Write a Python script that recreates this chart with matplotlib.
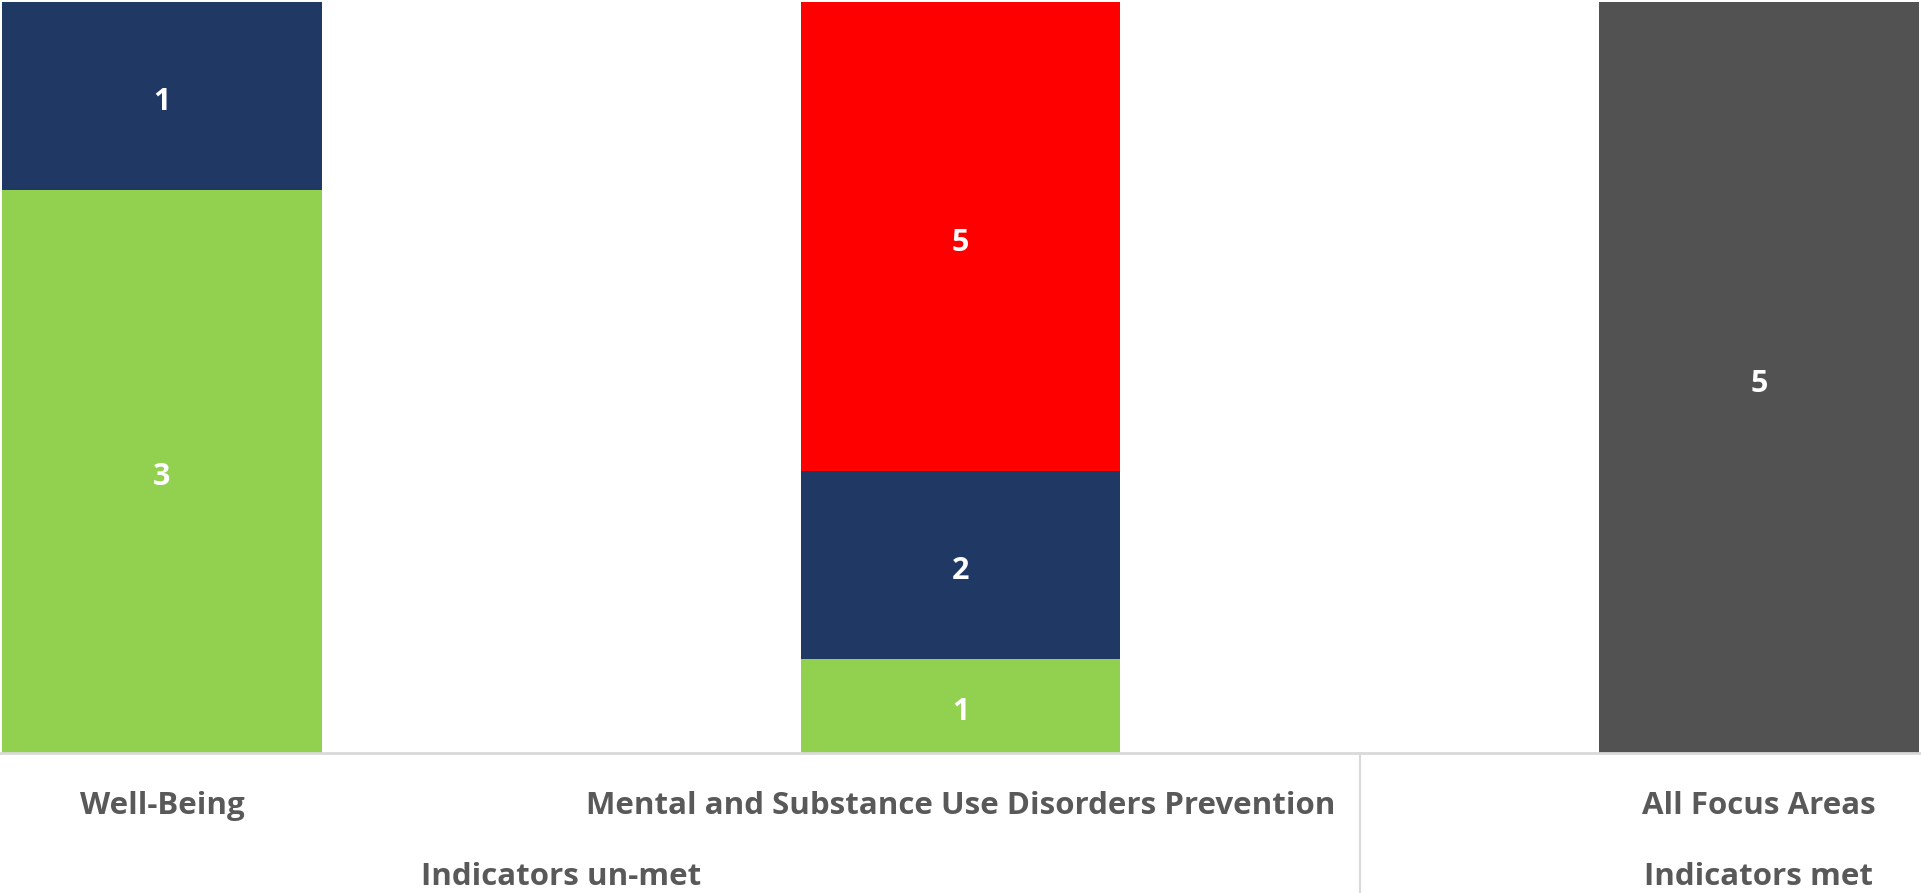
import matplotlib
matplotlib.use("Agg")
import matplotlib.pyplot as plt
from matplotlib.transforms import blended_transform_factory, offset_copy

categories = ["Well-Being", "Mental and Substance Use Disorders Prevention", "All Focus Areas"]
groups = ["Indicators un-met", "Indicators un-met", "Indicators met"]
green = [3, 1, 0]
navy = [1, 2, 0]
red = [0, 5, 0]
gray = [0, 0, 5]
colors = ["#92D050", "#203864", "#FF0000", "#525252"]

plt.rcParams["font.family"] = ["Open Sans", "DejaVu Sans"]

fig = plt.figure(figsize=(19.21, 8.93), dpi=100)
W, H = 1921, 893
ax = fig.add_axes([0, (H - 753) / H, 1, 751 / H])

x = list(range(len(categories)))
series = [green, navy, red, gray]
totals = [sum(s[i] for s in series) for i in x]
bottoms = [0.0] * len(x)
lbl_trans = offset_copy(ax.transData, fig=fig, x=0, y=-6, units="dots")
for vals, col in zip(series, colors):
    fr = [v / t for v, t in zip(vals, totals)]
    ax.bar(x, fr, bottom=bottoms, width=0.4, color=col, edgecolor="none")
    for i, (v, f) in enumerate(zip(vals, fr)):
        if v > 0:
            ax.text(i, bottoms[i] + f / 2, str(v), ha="center", va="center",
                    color="white", fontsize=22, fontweight="bold", transform=lbl_trans)
    bottoms = [b + f for b, f in zip(bottoms, fr)]

ax.set_xlim(-0.2029, 2.203)
ax.set_ylim(0, 1)
ax.axis("off")

trans = blended_transform_factory(ax.transData, fig.transFigure)
ax.plot([-0.3, 2.3], [0, 0], color="#D9D9D9", lw=2, clip_on=False, transform=ax.transData)
ax.plot([1.5, 1.5], [0, (H - 753) / H], color="#D9D9D9", lw=1.5, transform=trans, clip_on=False)

for i, c in enumerate(categories):
    ax.text(i, 1 - 806 / H, c, transform=trans, ha="center", va="center",
            color="#595959", fontsize=22.5, fontweight="bold")

grp_pos = {}
for i, g in enumerate(groups):
    grp_pos.setdefault(g, []).append(i)
for g, idx in grp_pos.items():
    ax.text(sum(idx) / len(idx), 1 - 877 / H, g, transform=trans, ha="center", va="center",
            color="#595959", fontsize=22.5, fontweight="bold")

fig.savefig("out.png", dpi=100)
